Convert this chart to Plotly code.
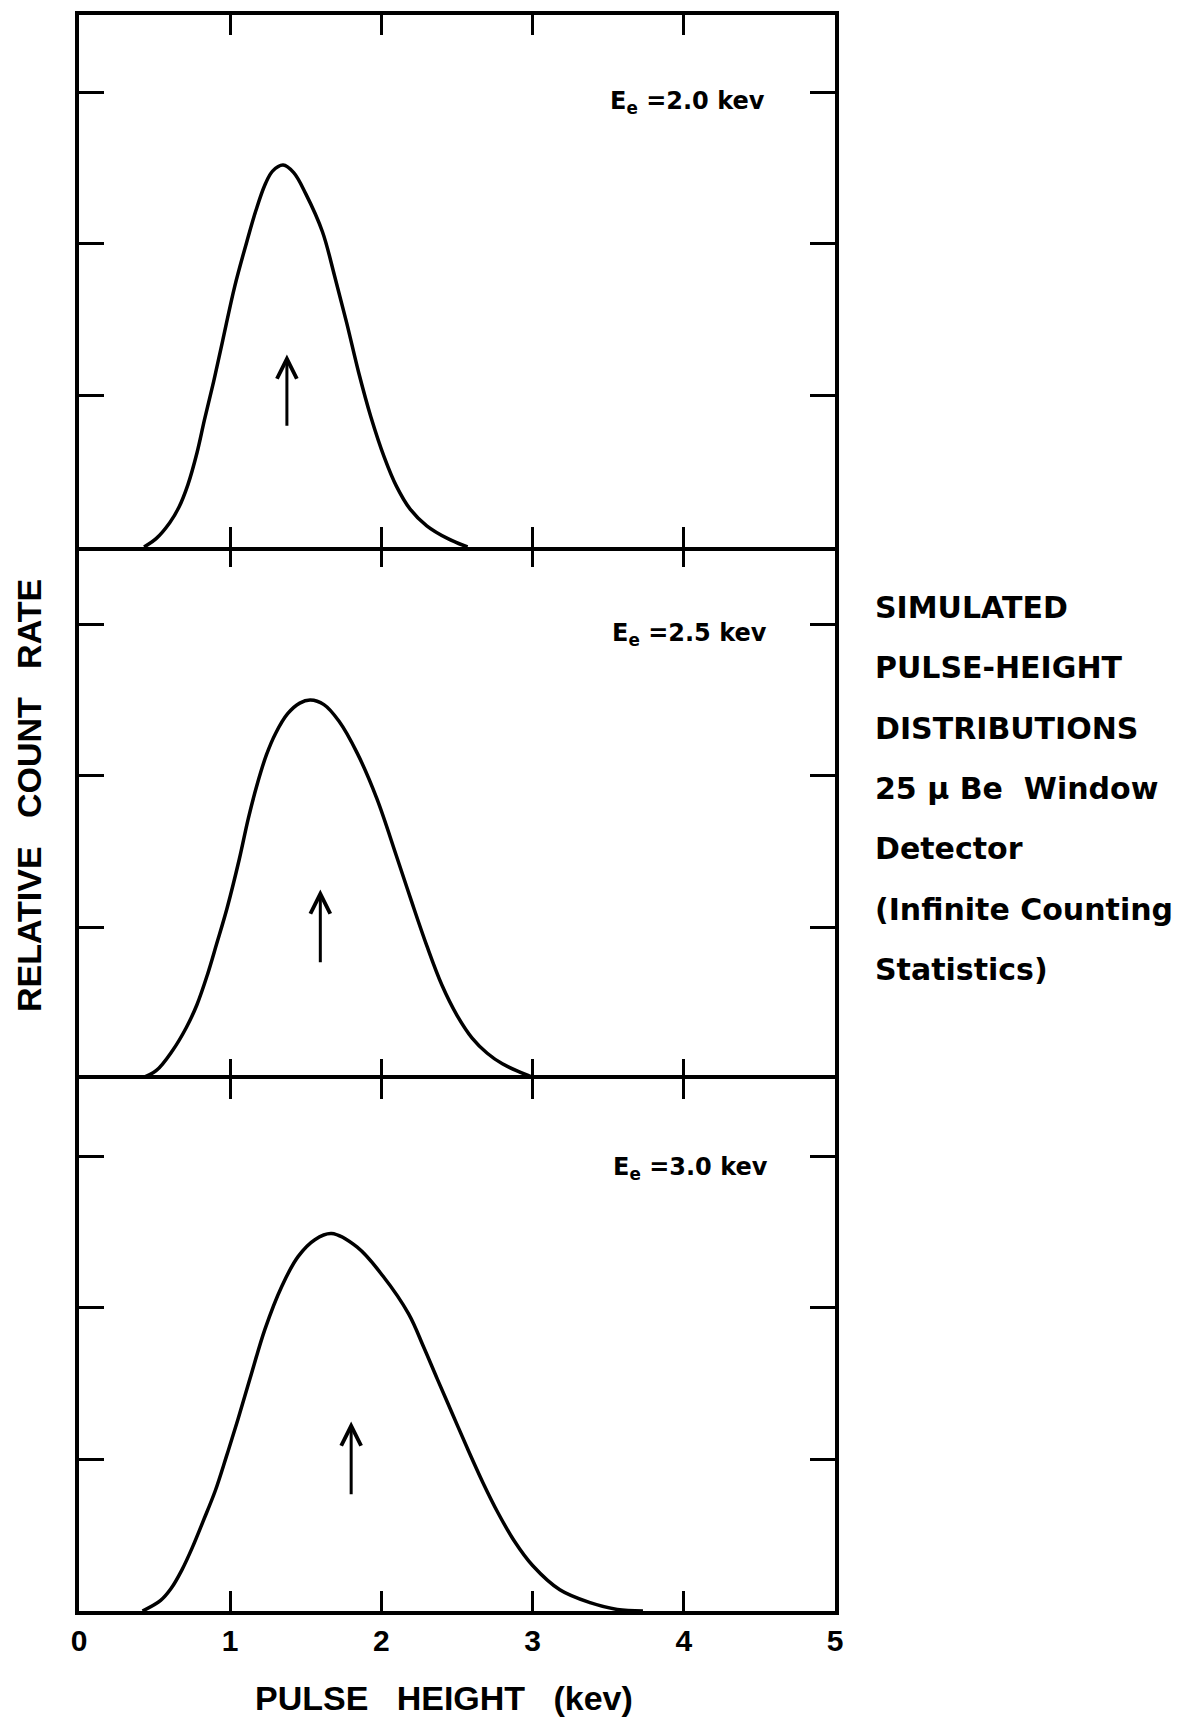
import plotly.graph_objects as go
from plotly.subplots import make_subplots

# ---------------- data ----------------
x_e20 = [0.43, 0.51, 0.60, 0.66, 0.72, 0.78, 0.83, 0.89, 0.95, 1.03, 1.12, 1.17, 1.23, 1.28,
         1.35, 1.42, 1.50, 1.61, 1.69, 1.77, 1.85, 1.93, 2.02, 2.10, 2.19, 2.30, 2.44, 2.57]
y_e20 = [0.00, 0.055, 0.16, 0.26, 0.41, 0.62, 0.84, 1.09, 1.36, 1.72, 2.05, 2.22, 2.39, 2.48,
         2.52, 2.47, 2.33, 2.08, 1.79, 1.48, 1.15, 0.86, 0.59, 0.40, 0.25, 0.14, 0.055, 0.00]

x_e25 = [0.40, 0.51, 0.62, 0.71, 0.78, 0.85, 0.91, 0.98, 1.06, 1.12, 1.18, 1.24, 1.30, 1.38,
         1.46, 1.53, 1.62, 1.72, 1.84, 1.97, 2.10, 2.20, 2.30, 2.40, 2.50, 2.60, 2.70,
         2.80, 2.92, 3.03]
y_e25 = [0.00, 0.055, 0.19, 0.34, 0.49, 0.69, 0.89, 1.13, 1.45, 1.72, 1.95, 2.14, 2.28, 2.41,
         2.48, 2.50, 2.47, 2.36, 2.15, 1.85, 1.47, 1.17, 0.88, 0.62, 0.42, 0.27, 0.17,
         0.10, 0.044, 0.00]

x_e30 = [0.42, 0.54, 0.61, 0.68, 0.75, 0.82, 0.90, 0.975, 1.05, 1.13, 1.23, 1.34, 1.45,
         1.56, 1.67, 1.84, 2.01, 2.18, 2.28, 2.37, 2.47, 2.57, 2.67, 2.77, 2.88, 3.00,
         3.18, 3.38, 3.56, 3.73]
y_e30 = [0.00, 0.07, 0.15, 0.27, 0.42, 0.59, 0.79, 1.02, 1.26, 1.53, 1.86, 2.14, 2.34,
         2.45, 2.49, 2.40, 2.21, 1.96, 1.74, 1.53, 1.30, 1.07, 0.85, 0.65, 0.46, 0.30,
         0.14, 0.055, 0.01, 0.00]

panel_labels = ["E<sub>e</sub> =2.0 kev", "E<sub>e</sub> =2.5 kev", "E<sub>e</sub> =3.0 kev"]
label_x = [3.50, 3.51, 3.52]
label_y = [2.93, 2.93, 2.92]
arrow_x = [1.375, 1.596, 1.80]
arrow_tail = [0.79, 0.76, 0.76]
arrow_tip = [1.27, 1.25, 1.25]

x_tickvals = [0, 1, 2, 3, 4, 5]
x_ticktext = ["0", "1", "2", "3", "4", "5"]
y_tickvals = [1, 2, 3]
y_max = 3.51

side_text = ["SIMULATED", "PULSE-HEIGHT", "DISTRIBUTIONS", "25 \u03bc Be  Window",
             "Detector", "(Infinite Counting", "Statistics)"]
x_title = "PULSE   HEIGHT   (kev)"
y_title = "RELATIVE   COUNT   RATE"

# ---------------- geometry (page pixels; the page body has an 8px margin) ----------------
OFF = 8
W, H = 1199 - OFF, 1720 - OFF
P_LEFT, P_RIGHT, P_TOP, P_BOTTOM = 79, 835, 11, 1611   # plot area in page pixels
ML = P_LEFT - OFF
MT = P_TOP - OFF
MR = W - (P_RIGHT - OFF)
MB = H - (P_BOTTOM - OFF)
PW = P_RIGHT - P_LEFT
PH = P_BOTTOM - P_TOP


def pxx(xp):
    return (xp - P_LEFT) / PW


def pxy(yp):
    return (P_BOTTOM - yp) / PH


fig = make_subplots(rows=3, cols=1, shared_xaxes=True, vertical_spacing=0)

series = [(x_e20, y_e20), (x_e25, y_e25), (x_e30, y_e30)]
for i, (xs, ys) in enumerate(series):
    fig.add_trace(go.Scatter(x=xs, y=ys, mode="lines",
                             line=dict(color="black", width=3.5, shape="spline", smoothing=1.0),
                             showlegend=False, hoverinfo="skip"), row=i + 1, col=1)

SANS = "Liberation Sans"
WIDE = "DejaVu Sans"

for i in range(3):
    r = i + 1
    fig.update_xaxes(range=[0, 5], tickvals=x_tickvals, ticktext=x_ticktext,
                     ticks="inside", ticklen=20, tickwidth=3, tickcolor="black",
                     showline=(r != 2), linewidth=3.5, linecolor="black", mirror="ticks",
                     showgrid=False, zeroline=False, row=r, col=1)
    fig.update_yaxes(range=[0, y_max], tickvals=y_tickvals, showticklabels=False,
                     ticks="inside", ticklen=25, tickwidth=3, tickcolor="black",
                     showline=True, linewidth=3.5, linecolor="black", mirror="ticks",
                     showgrid=False, zeroline=False, row=r, col=1)

fig.update_xaxes(showticklabels=True, ticklabelstandoff=0,
                 tickfont=dict(family=SANS, size=30, color="black", weight="bold"),
                 row=3, col=1)

# panel labels and arrows
for i in range(3):
    xr = "x" if i == 0 else f"x{i+1}"
    yr = "y" if i == 0 else f"y{i+1}"
    fig.add_annotation(x=label_x[i], y=label_y[i], xref=xr, yref=yr, text=panel_labels[i],
                       showarrow=False, xanchor="left", yanchor="middle",
                       font=dict(family=WIDE, size=24, color="black", weight="bold"))
    fig.add_annotation(x=arrow_x[i], y=arrow_tip[i], ax=arrow_x[i], ay=arrow_tail[i],
                       xref=xr, yref=yr, axref=xr, ayref=yr, text="",
                       showarrow=True, arrowhead=5, arrowsize=1.3, arrowwidth=3,
                       arrowcolor="black")

# side text
for j, line in enumerate(side_text):
    ypx = 605 + j * 60.5
    fig.add_annotation(xref="paper", yref="paper", x=pxx(873), y=pxy(ypx),
                       text=line, showarrow=False, xanchor="left", yanchor="middle",
                       font=dict(family=WIDE, size=30, color="black", weight="bold"))

# axis titles
fig.add_annotation(xref="paper", yref="paper", x=pxx(29), y=pxy(794),
                   text=y_title, textangle=-90, showarrow=False,
                   xanchor="center", yanchor="middle",
                   font=dict(family=SANS, size=34, color="black", weight="bold"))
fig.add_annotation(xref="paper", yref="paper", x=pxx(444), y=pxy(1698),
                   text=x_title, showarrow=False, xanchor="center", yanchor="middle",
                   font=dict(family=SANS, size=34, color="black", weight="bold"))

fig.update_layout(width=W, height=H, margin=dict(l=ML, r=MR, t=MT, b=MB),
                  paper_bgcolor="white", plot_bgcolor="white",
                  font=dict(family=SANS, color="black"))

fig.write_html("out.html")
